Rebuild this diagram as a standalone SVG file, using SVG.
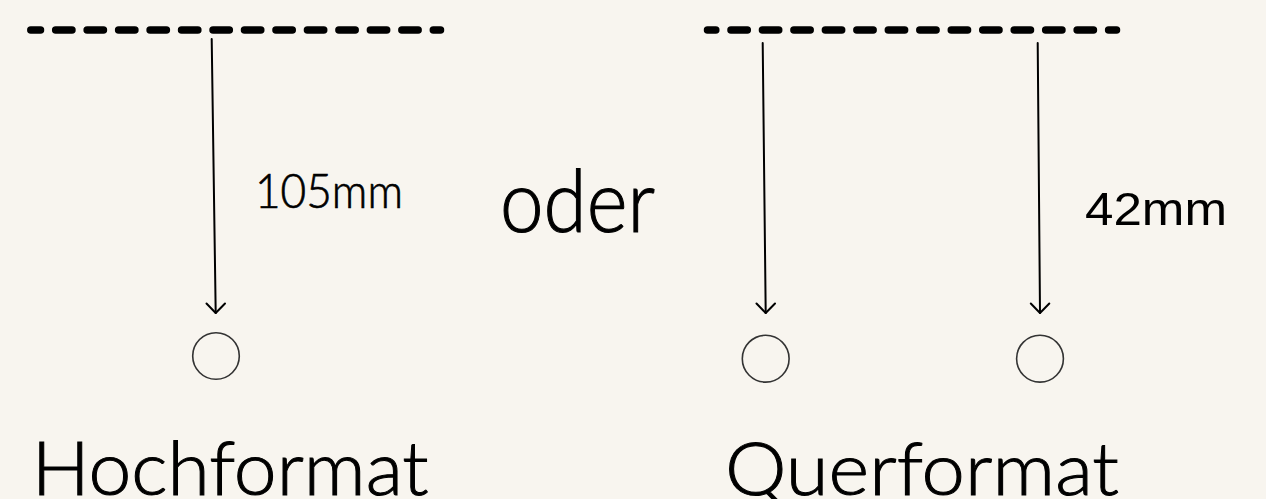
<svg xmlns="http://www.w3.org/2000/svg" width="1266" height="499" viewBox="0 0 1266 499">
  <style>
    .rail { stroke: #000; stroke-width: 7.5; stroke-linecap: round; stroke-dasharray: 16.3 15.17; fill: none; }
    .arrow { stroke: #000; stroke-width: 2; fill: none; stroke-linecap: round; stroke-linejoin: round; }
    .hole { fill: none; stroke: #333; stroke-width: 1.6; }
    .geo { font-family: Lato, "Open Sans", "DejaVu Sans", sans-serif; font-weight: 300; fill: #000; stroke: #000; }
    .ari { font-family: "Liberation Sans", Arial, sans-serif; fill: #000; }
  </style>
  <rect width="1266" height="499" fill="#f8f5ef"/>

  <g id="rails">
    <line class="rail" x1="30.8" y1="30" x2="440.5" y2="30" stroke-dashoffset="6.6"/>
    <line class="rail" x1="707.5" y1="30" x2="1116.5" y2="30" stroke-dashoffset="8"/>
  </g>

  <g id="connectors">
    <line class="arrow" x1="211.7" y1="39" x2="215.7" y2="313"/>
    <polyline class="arrow" points="206.5,303.5 215.7,313 225,303.5"/>
    <line class="arrow" x1="762.7" y1="43" x2="765.7" y2="313"/>
    <polyline class="arrow" points="756.5,303.5 765.7,313 775,303.5"/>
    <line class="arrow" x1="1037.7" y1="43" x2="1040" y2="313"/>
    <polyline class="arrow" points="1030.8,303.5 1040,313 1049.3,303.5"/>
  </g>

  <g id="hole-hoch">
    <circle class="hole" cx="216" cy="356" r="23.3"/>
  </g>
  <g id="hole-quer-1">
    <circle class="hole" cx="765.7" cy="358.7" r="23.4"/>
  </g>
  <g id="hole-quer-2">
    <circle class="hole" cx="1040" cy="358.7" r="23.4"/>
  </g>

  <g id="label-105mm">
    <text class="geo" x="255" y="208" font-size="48" stroke-width="0.7" textLength="148" lengthAdjust="spacingAndGlyphs">105mm</text>
  </g>
  <g id="label-oder">
    <text class="geo" x="500" y="231.5" font-size="86" stroke-width="1.1" textLength="155" lengthAdjust="spacingAndGlyphs">oder</text>
  </g>
  <g id="label-42mm">
    <text class="ari" x="1085" y="225" font-size="46" textLength="142" lengthAdjust="spacingAndGlyphs">42mm</text>
  </g>
  <g id="label-hochformat">
    <text class="geo" x="31.7" y="495" font-size="74" stroke-width="1" textLength="397" lengthAdjust="spacingAndGlyphs">Hochformat</text>
  </g>
  <g id="label-querformat">
    <text class="geo" x="725" y="495" font-size="73" stroke-width="1" textLength="394" lengthAdjust="spacingAndGlyphs">Querformat</text>
  </g>
</svg>
